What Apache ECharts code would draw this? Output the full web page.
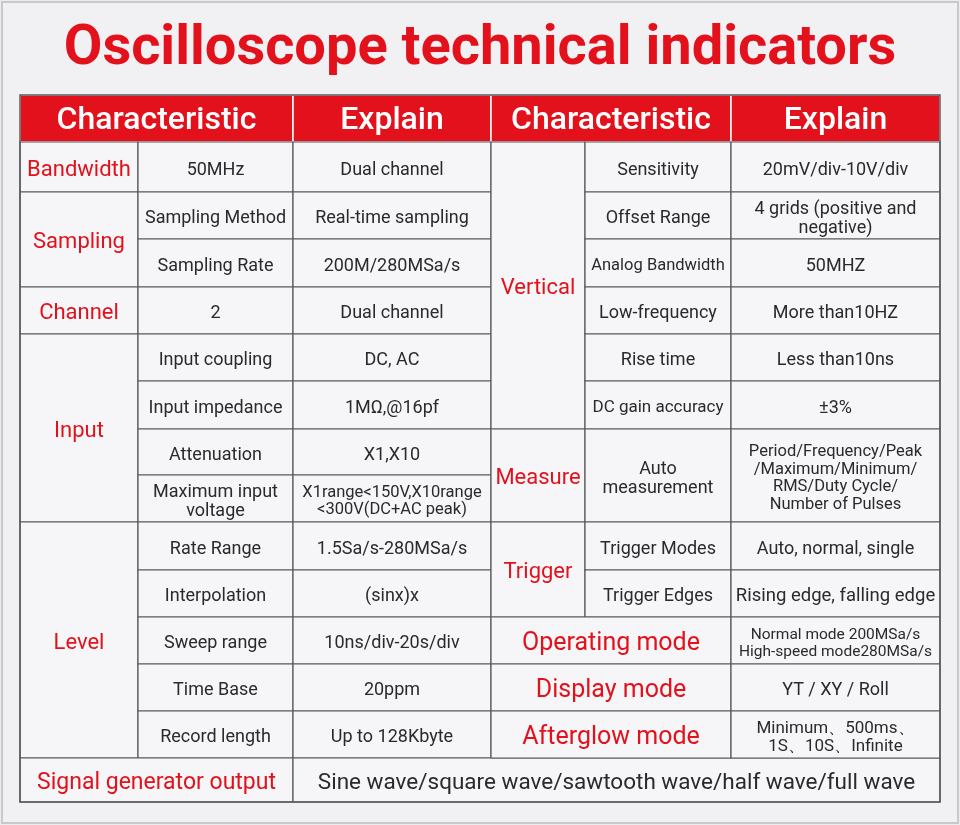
<!DOCTYPE html>
<html><head><meta charset="utf-8">
<script src="https://cdn.jsdelivr.net/npm/echarts@6/dist/echarts.min.js"></script>
<style>html,body{margin:0;padding:0;background:#ececef}#c{width:960px;height:825px}</style>
</head><body><div id="c"></div>
<script>
var title = 'Oscilloscope technical indicators'
// table grid lines (layout)
var colX = [20, 138, 293, 491, 585, 731, 940]
var rowY = [95, 142, 192, 239, 287, 334, 381, 429, 475, 522, 570, 617, 664, 711, 758, 802]

// cells: [col from, col to, row from, row to, text, kind, font size]
var headCells = [
  [0, 2, 0, 1, 'Characteristic'], [2, 3, 0, 1, 'Explain'],
  [3, 5, 0, 1, 'Characteristic'], [5, 6, 0, 1, 'Explain']
]
var leftCells = [
  [0, 1, 1, 2, 'Bandwidth', 'r'], [1, 2, 1, 2, '50MHz'], [2, 3, 1, 2, 'Dual channel'],
  [0, 1, 2, 4, 'Sampling', 'r'], [1, 2, 2, 3, 'Sampling Method', 'n', 18], [2, 3, 2, 3, 'Real-time sampling'],
  [1, 2, 3, 4, 'Sampling Rate'], [2, 3, 3, 4, '200M/280MSa/s'],
  [0, 1, 4, 5, 'Channel', 'r'], [1, 2, 4, 5, '2'], [2, 3, 4, 5, 'Dual channel'],
  [0, 1, 5, 9, 'Input', 'r'], [1, 2, 5, 6, 'Input coupling'], [2, 3, 5, 6, 'DC, AC'],
  [1, 2, 6, 7, 'Input impedance', 'n', 18], [2, 3, 6, 7, '1MΩ,@16pf'],
  [1, 2, 7, 8, 'Attenuation'], [2, 3, 7, 8, 'X1,X10'],
  [1, 2, 8, 9, 'Maximum input\nvoltage'], [2, 3, 8, 9, 'X1range<150V,X10range\n<300V(DC+AC peak)', 'n', 16.5],
  [0, 1, 9, 14, 'Level', 'r'],
  [1, 2, 9, 10, 'Rate Range'], [2, 3, 9, 10, '1.5Sa/s-280MSa/s'],
  [1, 2, 10, 11, 'Interpolation'], [2, 3, 10, 11, '(sinx)x'],
  [1, 2, 11, 12, 'Sweep range'], [2, 3, 11, 12, '10ns/div-20s/div'],
  [1, 2, 12, 13, 'Time Base'], [2, 3, 12, 13, '20ppm'],
  [1, 2, 13, 14, 'Record length'], [2, 3, 13, 14, 'Up to 128Kbyte'],
  [0, 2, 14, 15, 'Signal generator output', 'r', 23],
  [2, 6, 14, 15, 'Sine wave/square wave/sawtooth wave/half wave/full wave', 'n', 22.5]
]
var rightCells = [
  [3, 4, 1, 7, 'Vertical', 'r'],
  [4, 5, 1, 2, 'Sensitivity'], [5, 6, 1, 2, '20mV/div-10V/div'],
  [4, 5, 2, 3, 'Offset Range'], [5, 6, 2, 3, '4 grids (positive and\nnegative)'],
  [4, 5, 3, 4, 'Analog Bandwidth', 'n', 16.5], [5, 6, 3, 4, '50MHZ'],
  [4, 5, 4, 5, 'Low-frequency'], [5, 6, 4, 5, 'More than10HZ'],
  [4, 5, 5, 6, 'Rise time'], [5, 6, 5, 6, 'Less than10ns'],
  [4, 5, 6, 7, 'DC gain accuracy', 'n', 17], [5, 6, 6, 7, '±3%'],
  [3, 4, 7, 9, 'Measure', 'r'], [4, 5, 7, 9, 'Auto\nmeasurement'],
  [5, 6, 7, 9, 'Period/Frequency/Peak\n/Maximum/Minimum/\nRMS/Duty Cycle/\nNumber of Pulses', 'n', 16.5],
  [3, 4, 9, 11, 'Trigger', 'r'],
  [4, 5, 9, 10, 'Trigger Modes'], [5, 6, 9, 10, 'Auto, normal, single'],
  [4, 5, 10, 11, 'Trigger Edges'], [5, 6, 10, 11, 'Rising edge, falling edge', 'n', 18.5],
  [3, 5, 11, 12, 'Operating mode', 'R'], [5, 6, 11, 12, 'Normal mode 200MSa/s\nHigh-speed mode280MSa/s', 'n', 15.5],
  [3, 5, 12, 13, 'Display mode', 'R'], [5, 6, 12, 13, 'YT / XY / Roll'],
  [3, 5, 13, 14, 'Afterglow mode', 'R'], [5, 6, 13, 14, 'Minimum、500ms、\n1S、10S、Infinite', 'n', 17]
]

var RED = '#e3111c'
var elements = []
elements.push({type: 'rect', shape: {x: 2, y: 2, width: 956, height: 821}, style: {fill: '#f1f1f4', stroke: '#c9c9cc', lineWidth: 2}})
elements.push({type: 'text', x: 480, y: 50, style: {text: title, fill: RED, font: 'bold 56px Roboto', textAlign: 'center', textVerticalAlign: 'middle'}})

function addCell(c, head) {
  var x0 = colX[c[0]], x1 = colX[c[1]], y0 = rowY[c[2]], y1 = rowY[c[3]]
  var kind = c[5] || 'n'
  var size = c[6] || (head ? 32 : kind == 'r' ? 22 : kind == 'R' ? 25 : 18)
  elements.push({type: 'rect', shape: {x: x0, y: y0, width: x1 - x0, height: y1 - y0},
    style: {fill: head ? RED : '#f6f6f8', stroke: head ? '#ffffff' : '#58585c', lineWidth: head ? 1.5 : 1.2}})
  elements.push({type: 'text', x: (x0 + x1) / 2, y: (y0 + y1) / 2 + (head ? 2 : 3),
    style: {text: c[4], fill: head ? '#fff' : (kind == 'n' ? '#2a2a2a' : RED),
      font: (head ? '500 ' : '') + size + 'px Roboto', textAlign: 'center', textVerticalAlign: 'middle',
      lineHeight: size + 1}})
}
headCells.forEach(function (c) { addCell(c, true) })
leftCells.concat(rightCells).forEach(function (c) { addCell(c, false) })
// outer table border
elements.push({type: 'rect', shape: {x: 20, y: 95, width: 920, height: 707}, style: {fill: 'none', stroke: '#58585c', lineWidth: 1.5}})

var chart = echarts.init(document.getElementById('c'))
chart.setOption({animation: false, graphic: {elements: elements}})
</script>
</body></html>
